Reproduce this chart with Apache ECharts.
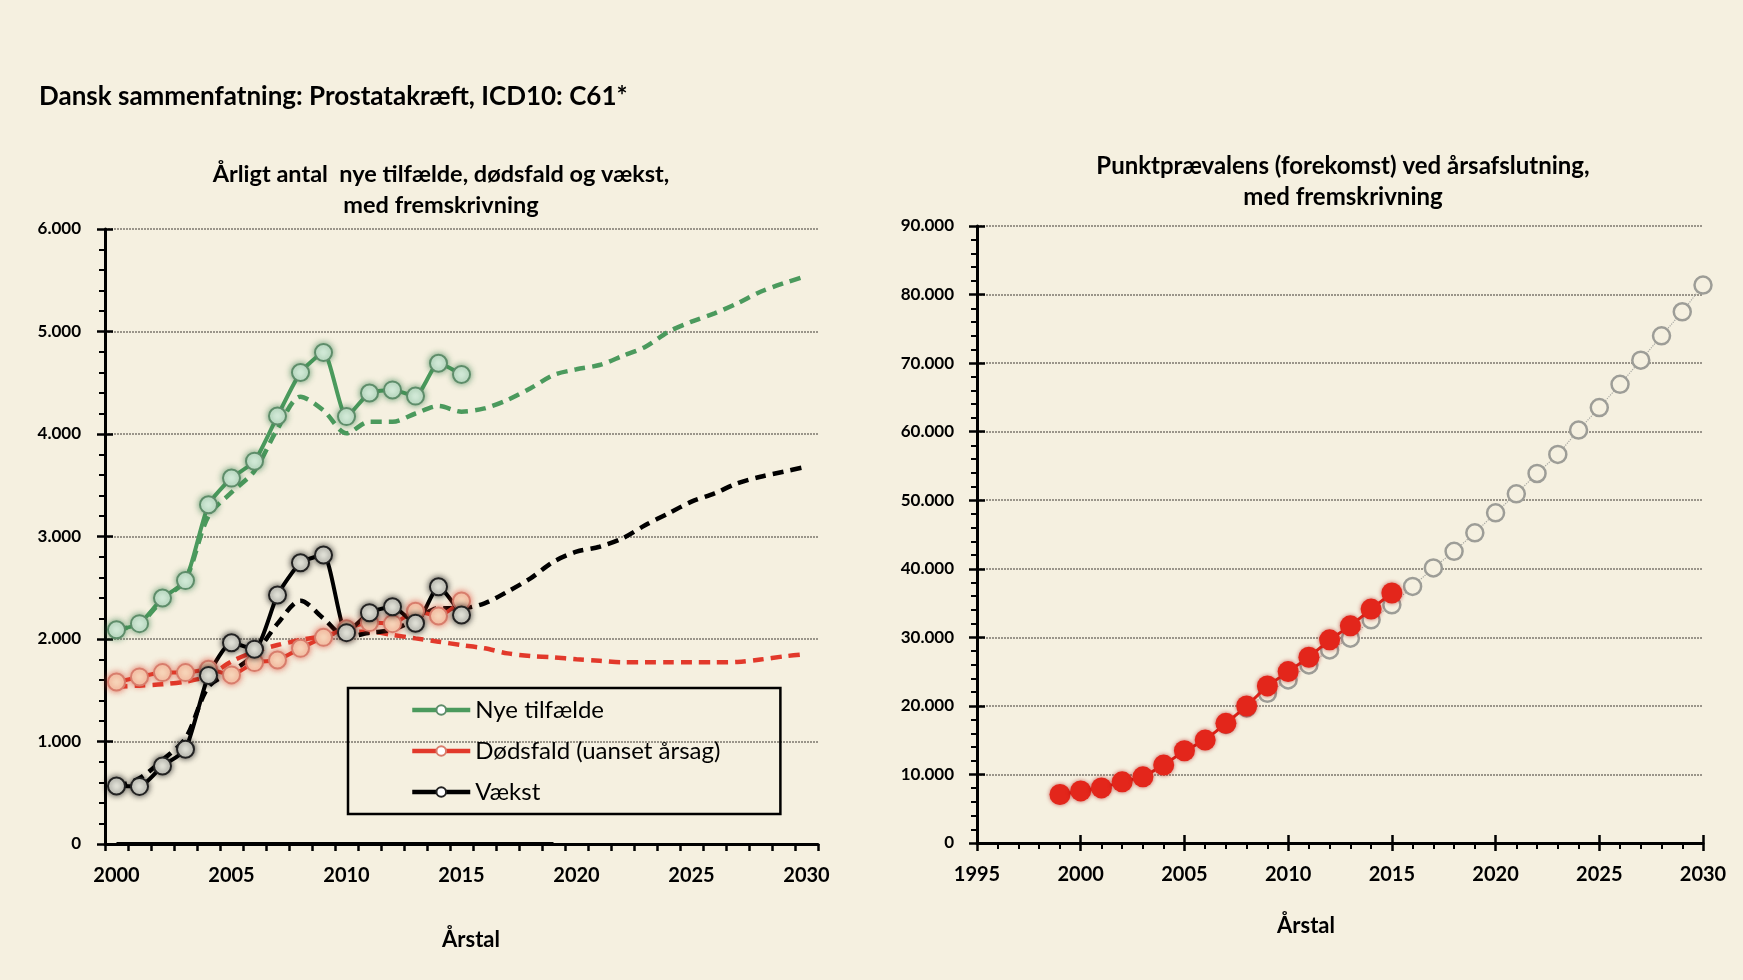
<!DOCTYPE html>
<html>
<head>
<meta charset="utf-8">
<script src="https://cdn.jsdelivr.net/npm/echarts@6/dist/echarts.min.js"></script>
<style>
  html, body { margin: 0; padding: 0; background: #f5f0e0; }
  #chart { width: 1743px; height: 980px; }
</style>
</head>
<body>
<div id="chart"></div>
<script>
// årstal for venstre figur (kategorier)
const aar = ['2000','2001','2002','2003','2004','2005','2006','2007','2008','2009','2010',
  '2011','2012','2013','2014','2015','2016','2017','2018','2019','2020',
  '2021','2022','2023','2024','2025','2026','2027','2028','2029','2030']

// observeret 2000-2015
const nyeTilfaelde = [2090, 2150, 2400, 2570, 3310, 3570, 3735, 4175, 4600, 4795, 4170, 4400, 4430, 4370, 4690, 4580]
const doedsfald = [1580, 1630, 1672, 1672, 1705, 1650, 1770, 1795, 1909, 2016, 2100, 2160, 2150, 2270, 2225, 2370]
const vaekst = [566, 562, 761, 924, 1645, 1964, 1900, 2429, 2744, 2819, 2062, 2257, 2315, 2153, 2510, 2234]

// fremskrivning 2000-2030
const nyeFrem = [2090, 2150, 2380, 2580, 3200, 3430, 3640, 4050, 4364, 4230, 4007, 4120, 4120, 4200, 4273, 4218,
  4250, 4332, 4446, 4576, 4631, 4673, 4761, 4852, 4998, 5096, 5177, 5275, 5388, 5470, 5541]
const doedFrem = [1535, 1545, 1558, 1584, 1640, 1780, 1876, 1941, 1990, 2029, 2071, 2071, 2040, 2006, 1974, 1941,
  1909, 1860, 1834, 1821, 1802, 1788, 1773, 1773, 1773, 1773, 1773, 1776, 1800, 1830, 1854]
const vaekstFrem = [560, 641, 820, 1030, 1535, 1680, 1850, 2150, 2374, 2200, 2022, 2060, 2090, 2190, 2300, 2300,
  2348, 2462, 2592, 2754, 2852, 2900, 2982, 3112, 3226, 3340, 3421, 3519, 3583, 3632, 3681]
// linje langs x-aksen (0) 2000-2019
const nul = [0,0,0,0,0,0,0,0,0,0,0,0,0,0,0,0,0,0,0,0]

// højre figur: punktprævalens
const prevAar = [1999, 2000, 2001, 2002, 2003, 2004, 2005, 2006, 2007, 2008, 2009, 2010, 2011, 2012, 2013, 2014,
  2015, 2016, 2017, 2018, 2019, 2020, 2021, 2022, 2023, 2024, 2025, 2026, 2027, 2028, 2029, 2030]
const prevObs = [7070, 7600, 8040, 8920, 9650, 11360, 13450, 15010, 17450, 19980, 22910, 25000, 27100, 29630,
  31680, 34120, 36460]
const prevFrem = [7070, 7600, 8040, 8920, 9650, 11360, 13450, 15010, 17300, 19700, 21840, 23790, 25980, 28170,
  29880, 32560, 34750, 37430, 40120, 42550, 45240, 48160, 50940, 53900, 56680, 60230, 63510, 66910, 70430,
  73980, 77490, 81390]

const FONT = 'Lato, "Liberation Sans", sans-serif'
const GREEN = '#4b9a5d'
const RED = '#e2392b'
const BLACK = '#000000'

const fmt = v => String(v).replace(/\B(?=(\d{3})+(?!\d))/g, '.')

const chart = echarts.init(document.getElementById('chart'))

const valAxis = (grid, max, interval, margin) => ({
  type: 'value', gridIndex: grid, min: 0, max: max, interval: interval, position: 'left',
  axisLine: {show: true, lineStyle: {color: BLACK, width: 3}},
  axisTick: {show: true, length: 8, lineStyle: {color: BLACK, width: 2.5}},
  minorTick: {show: true, splitNumber: 5, length: 6, lineStyle: {color: BLACK, width: 2}},
  axisLabel: {formatter: fmt, fontSize: 17, fontWeight: 'bold', fontFamily: FONT, color: BLACK, margin: margin},
  splitLine: {show: true, lineStyle: {color: '#9a958a', width: 2, type: [2, 1]}}
})
// ekstra akse kun for at få hovedtakstreger på indersiden
const dupAxis = (type, grid, pos, min, max, interval) => ({
  type: type, gridIndex: grid, position: pos, min: min, max: max, interval: interval,
  axisLine: {show: false},
  axisTick: {show: true, inside: true, length: 8, lineStyle: {color: BLACK, width: 2.5}},
  axisLabel: {show: false},
  splitLine: {show: false}
})

const dashed = (data, color) => ({
  type: 'line', xAxisIndex: 0, yAxisIndex: 0, data: data, smooth: 0.3,
  symbol: 'none', z: 2, silent: true,
  lineStyle: {color: color, width: 4.5, type: [11, 7]}
})
const solid = (name, data, color, fill, border, glow) => ({
  name: name, type: 'line', xAxisIndex: 0, yAxisIndex: 0, data: data, smooth: 0.2,
  symbol: 'circle', symbolSize: 17, showAllSymbol: true, z: 4,
  lineStyle: {color: color, width: 4},
  itemStyle: {color: fill, borderColor: border, borderWidth: 2, shadowBlur: 6, shadowColor: glow}
})

const option = {
  backgroundColor: '#f5f0e0',
  animation: false,
  graphic: [
    {type: 'text', x: 39, y: 97, style: {text: 'Dansk sammenfatning: Prostatakræft, ICD10: C61*',
      font: 'bold 26px ' + FONT, fill: BLACK, verticalAlign: 'middle'}},
    {type: 'text', x: 441, y: 190, style: {text: 'Årligt antal  nye tilfælde, dødsfald og vækst,\nmed fremskrivning',
      font: 'bold 23.5px ' + FONT, fill: BLACK, align: 'center', verticalAlign: 'middle', lineHeight: 31}},
    {type: 'text', x: 1343, y: 182, style: {text: 'Punktprævalens (forekomst) ved årsafslutning,\nmed fremskrivning',
      font: 'bold 24px ' + FONT, fill: BLACK, align: 'center', verticalAlign: 'middle', lineHeight: 31}},
    {type: 'text', x: 471, y: 940, style: {text: 'Årstal', font: 'bold 22px ' + FONT, fill: BLACK,
      align: 'center', verticalAlign: 'middle'}},
    {type: 'text', x: 1306, y: 926, style: {text: 'Årstal', font: 'bold 22px ' + FONT, fill: BLACK,
      align: 'center', verticalAlign: 'middle'}}
  ],
  legend: {
    data: ['Nye tilfælde', 'Dødsfald (uanset årsag)', 'Vækst'],
    orient: 'vertical', left: 348, top: 688,
    padding: [10, 60, 10, 62], itemGap: 17, itemWidth: 58, itemHeight: 12,
    borderColor: BLACK, borderWidth: 2.5, selectedMode: false,
    itemStyle: {color: '#ffffff', borderWidth: 2, shadowBlur: 0},
    lineStyle: {width: 4.5},
    textStyle: {fontSize: 24, fontFamily: FONT, color: BLACK}
  },
  grid: [
    {left: 105, top: 229, width: 713, height: 615, outerBoundsMode: 'none'},
    {left: 977, top: 226, width: 726, height: 617, outerBoundsMode: 'none'}
  ],
  xAxis: [
    {
      type: 'category', gridIndex: 0, data: aar, boundaryGap: true, position: 'bottom',
      axisLine: {show: true, lineStyle: {color: BLACK, width: 3}},
      axisTick: {show: true, interval: 0, length: 7, lineStyle: {color: BLACK, width: 2.5}},
      axisLabel: {interval: 4, fontSize: 20, fontWeight: 'bold', fontFamily: FONT, color: BLACK, margin: 22},
      splitLine: {show: false}
    },
    {
      type: 'value', gridIndex: 1, min: 1995, max: 2030, interval: 5, position: 'bottom',
      axisLine: {show: true, lineStyle: {color: BLACK, width: 3}},
      axisTick: {show: true, length: 8, lineStyle: {color: BLACK, width: 2.5}},
      minorTick: {show: true, splitNumber: 5, length: 6, lineStyle: {color: BLACK, width: 2}},
      axisLabel: {formatter: v => String(v), fontSize: 20, fontWeight: 'bold', fontFamily: FONT, color: BLACK, margin: 22},
      splitLine: {show: false}
    },
    dupAxis('value', 1, 'bottom', 1995, 2030, 5)
  ],
  yAxis: [
    valAxis(0, 6000, 1000, 24),
    dupAxis('value', 0, 'left', 0, 6000, 1000),
    valAxis(1, 90000, 10000, 23),
    dupAxis('value', 1, 'left', 0, 90000, 10000)
  ],
  series: [
    dashed(nyeFrem, GREEN),
    dashed(doedFrem, RED),
    dashed(vaekstFrem, BLACK),
    {type: 'line', xAxisIndex: 0, yAxisIndex: 0, data: nul, symbol: 'none', z: 3, silent: true,
      lineStyle: {color: BLACK, width: 4}},
    solid('Nye tilfælde', nyeTilfaelde, GREEN, '#d7eddc', '#5e8d6a', 'rgba(60,130,80,0.7)'),
    solid('Dødsfald (uanset årsag)', doedsfald, RED, '#f8d9bd', '#d87d6c', 'rgba(220,70,50,0.7)'),
    solid('Vækst', vaekst, BLACK, '#e7e7dd', '#222222', 'rgba(0,0,0,0.7)'),
    {
      type: 'line', xAxisIndex: 1, yAxisIndex: 2,
      data: prevAar.map((a, i) => [a, prevFrem[i]]),
      symbol: 'circle', symbolSize: 17, z: 3,
      lineStyle: {color: '#a8a8a2', width: 1.2, type: 'dotted'},
      itemStyle: {color: '#f5f0e0', borderColor: '#9d9d97', borderWidth: 2.5}
    },
    {
      type: 'line', xAxisIndex: 1, yAxisIndex: 2,
      data: prevObs.map((v, i) => [prevAar[i], v]),
      symbol: 'circle', symbolSize: 21, z: 4,
      lineStyle: {color: '#e3261b', width: 3},
      itemStyle: {color: '#e3261b', shadowBlur: 4, shadowColor: 'rgba(170,0,0,0.6)'}
    }
  ]
}

chart.setOption(option)
</script>
</body>
</html>
